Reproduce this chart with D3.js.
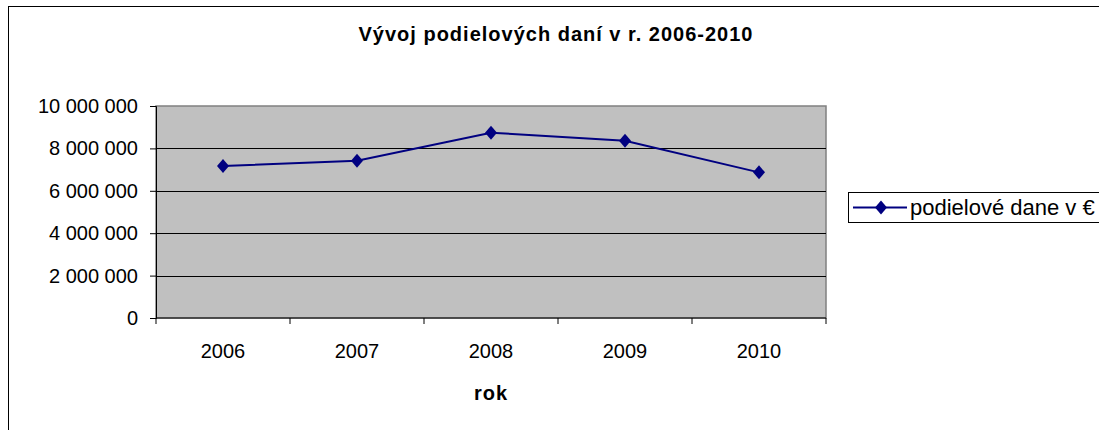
<!DOCTYPE html>
<html>
<head>
<meta charset="utf-8">
<script src="https://cdn.jsdelivr.net/npm/d3@7"></script>
<style>
  body { margin: 0; background: #fff; }
  text { font-family: "Liberation Sans", Arial, sans-serif; fill: #000; }
</style>
</head>
<body>
<div id="chart"></div>
<script>
var years = ["2006", "2007", "2008", "2009", "2010"];
var dane = [7170000, 7420000, 8740000, 8360000, 6870000];
var yTicks = [0, 2000000, 4000000, 6000000, 8000000, 10000000];
var seriesName = "podielové dane v €";
var title = "Vývoj podielových daní v r. 2006-2010";
var xTitle = "rok";

var width = 1099, height = 430;
var plot = { left: 156, right: 826, top: 106, bottom: 318 };

var svg = d3.select("#chart").append("svg")
    .attr("width", width)
    .attr("height", height);

// outer chart frame (runs off the right and bottom edge)
svg.append("rect")
    .attr("x", 8.5).attr("y", 6.5)
    .attr("width", 1200).attr("height", 600)
    .attr("fill", "#fff")
    .attr("stroke", "#000")
    .attr("stroke-width", 1);

var x = d3.scaleBand()
    .domain(years)
    .range([plot.left, plot.right]);

var y = d3.scaleLinear()
    .domain([0, 10000000])
    .range([plot.bottom, plot.top]);

// plot area
svg.append("rect")
    .attr("x", plot.left).attr("y", plot.top)
    .attr("width", plot.right - plot.left)
    .attr("height", plot.bottom - plot.top)
    .attr("fill", "#c0c0c0")
    .attr("stroke", "#808080")
    .attr("stroke-width", 1.5);

// gridlines
svg.append("g").selectAll("line")
    .data(yTicks.slice(1, -1))
    .enter().append("line")
    .attr("x1", plot.left).attr("x2", plot.right)
    .attr("y1", function(d){ return Math.round(y(d)) + 0.5; })
    .attr("y2", function(d){ return Math.round(y(d)) + 0.5; })
    .attr("stroke", "#000")
    .attr("stroke-width", 1);

var fmt = function(d){ return d3.format(",")(d).replace(/,/g, " "); };

var yAxis = svg.append("g")
    .attr("transform", "translate(" + plot.left + ",0)")
    .call(d3.axisLeft(y).tickValues(yTicks).tickFormat(fmt).tickSize(6).tickPadding(12));
yAxis.select(".domain").attr("stroke", "#000");
yAxis.selectAll(".tick line").attr("stroke", "#000");
yAxis.selectAll("text")
    .style("font-size", "20px")
    .attr("fill", "#000");

var xAxis = svg.append("g")
    .attr("transform", "translate(0," + plot.bottom + ")")
    .call(d3.axisBottom(x).tickSize(0).tickPadding(26));
xAxis.select(".domain").attr("stroke", "#000").attr("d", "M" + plot.left + ",0H" + plot.right);
xAxis.selectAll("text")
    .style("font-size", "20px")
    .attr("fill", "#000");

// category separator ticks
svg.append("g").selectAll("line")
    .data(d3.range(years.length + 1))
    .enter().append("line")
    .attr("x1", function(i){ return plot.left + i * x.step(); })
    .attr("x2", function(i){ return plot.left + i * x.step(); })
    .attr("y1", plot.bottom).attr("y2", plot.bottom + 6)
    .attr("stroke", "#000");

// series line
var line = d3.line()
    .x(function(d, i){ return x(years[i]) + x.bandwidth() / 2; })
    .y(function(d){ return y(d); });

svg.append("path")
    .datum(dane)
    .attr("d", line)
    .attr("fill", "none")
    .attr("stroke", "#000080")
    .attr("stroke-width", 2);

var diamond = "M0,-7L6,0L0,7L-6,0Z";

svg.append("g").selectAll("path")
    .data(dane)
    .enter().append("path")
    .attr("d", diamond)
    .attr("transform", function(d, i){
        return "translate(" + (x(years[i]) + x.bandwidth() / 2) + "," + y(d) + ")";
    })
    .attr("fill", "#000080");

// title
svg.append("text")
    .attr("x", 556).attr("y", 41)
    .attr("text-anchor", "middle")
    .style("font-size", "20px")
    .style("font-weight", "bold")
    .style("letter-spacing", "1px")
    .text(title);

svg.append("text")
    .attr("x", (plot.left + plot.right) / 2).attr("y", 400)
    .attr("text-anchor", "middle")
    .style("font-size", "20px")
    .style("font-weight", "bold")
    .style("letter-spacing", "1px")
    .text(xTitle);

// legend
var legend = svg.append("g").attr("transform", "translate(848,192)");
legend.append("rect")
    .attr("x", 0.5).attr("y", 0.5)
    .attr("width", 400).attr("height", 30)
    .attr("fill", "#fff")
    .attr("stroke", "#000");
legend.append("line")
    .attr("x1", 5).attr("x2", 59)
    .attr("y1", 15.5).attr("y2", 15.5)
    .attr("stroke", "#000080").attr("stroke-width", 2);
legend.append("path")
    .attr("d", diamond)
    .attr("transform", "translate(33,15.5)")
    .attr("fill", "#000080");
legend.append("text")
    .attr("x", 62).attr("y", 15.5)
    .attr("dy", "0.35em")
    .style("font-size", "22px")
    .text(seriesName);
</script>
</body>
</html>
